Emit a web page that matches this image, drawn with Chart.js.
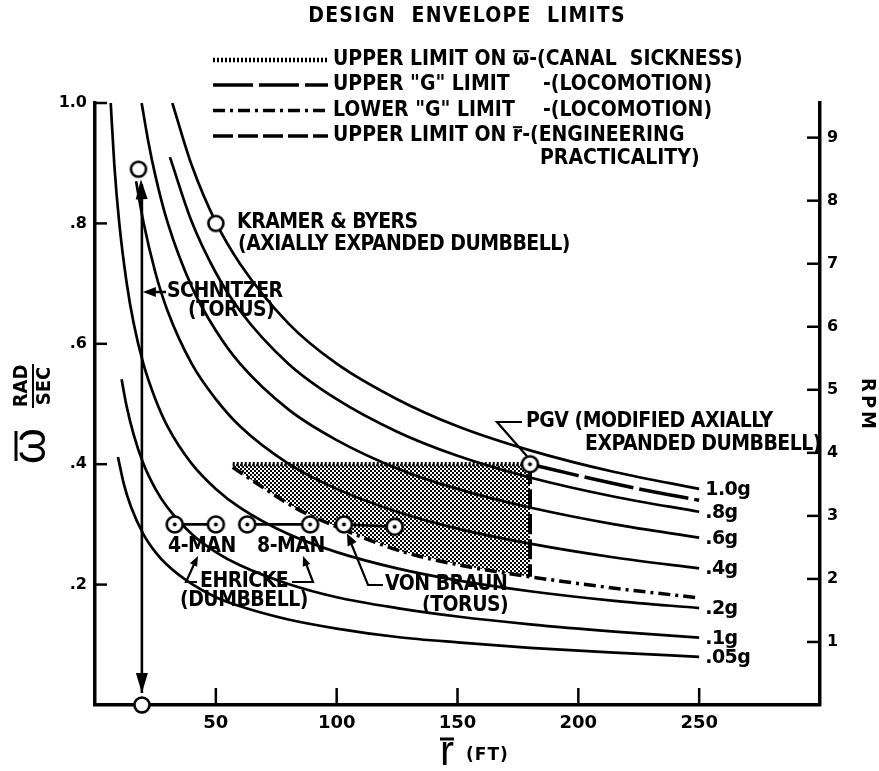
<!DOCTYPE html>
<html>
<head>
<meta charset="utf-8">
<title>Design Envelope Limits</title>
<script src="https://cdn.jsdelivr.net/npm/chart.js@4.4.1/dist/chart.umd.min.js"></script>
<style>
  html, body { margin: 0; padding: 0; background: #fff; }
  canvas { display: block; }
</style>
</head>
<body>
<canvas id="chart" width="879" height="771"></canvas>
<script>
// ---- constant-g curves: rim radius r (ft) against spin rate w (rad/sec) ----
const curveLabels = ['1.0g', '.8g', '.6g', '.4g', '.2g', '.1g', '.05g'];

const r10g  = [32, 40, 50, 60, 80, 100, 125, 150, 180, 215, 250];
const w10g  = [1.0, 0.897, 0.802, 0.733, 0.634, 0.567, 0.508, 0.463, 0.423, 0.387, 0.359];

const r08g  = [31, 40, 50, 60, 80, 100, 125, 150, 180, 215, 250];
const w08g  = [0.91, 0.803, 0.718, 0.655, 0.567, 0.508, 0.454, 0.414, 0.378, 0.346, 0.321];

const r06g  = [19.3, 22, 25, 30, 40, 50, 60, 80, 100, 125, 150, 180, 215, 250];
const w06g  = [1.0, 0.937, 0.879, 0.802, 0.695, 0.622, 0.567, 0.491, 0.440, 0.393, 0.359, 0.328, 0.300, 0.278];

const r04g  = [17, 20, 25, 30, 40, 50, 60, 80, 100, 125, 150, 180, 215, 250];
const w04g  = [0.870, 0.803, 0.718, 0.655, 0.567, 0.508, 0.463, 0.401, 0.359, 0.321, 0.293, 0.268, 0.245, 0.227];

const r02g  = [6.5, 8, 10, 13, 16, 20, 25, 30, 40, 50, 60, 80, 100, 125, 150, 180, 215, 250];
const w02g  = [1.0, 0.897, 0.802, 0.704, 0.634, 0.567, 0.508, 0.463, 0.401, 0.359, 0.328, 0.284, 0.254, 0.227, 0.207, 0.189, 0.173, 0.161];

const r01g  = [11, 13, 16, 20, 25, 30, 40, 50, 60, 80, 100, 125, 150, 180, 215, 250];
const w01g  = [0.541, 0.498, 0.449, 0.401, 0.359, 0.328, 0.284, 0.254, 0.232, 0.201, 0.179, 0.161, 0.147, 0.134, 0.122, 0.112];

const r005g = [9.5, 12, 15, 20, 25, 30, 40, 50, 60, 80, 100, 125, 150, 180, 215, 250];
const w005g = [0.412, 0.366, 0.328, 0.284, 0.254, 0.232, 0.201, 0.179, 0.164, 0.142, 0.127, 0.113, 0.104, 0.095, 0.087, 0.080];

const curveR = [r10g, r08g, r06g, r04g, r02g, r01g, r005g];
const curveW = [w10g, w08g, w06g, w04g, w02g, w01g, w005g];

// ---- design envelope boundaries ----
const canalR     = [57, 180];                 // upper limit on w (canal sickness)
const canalW     = [0.40, 0.40];
const upperGR    = [180, 200, 225, 250];      // upper "g" limit (locomotion)
const upperGW    = [0.40, 0.381, 0.359, 0.340];
const lowerGR    = [57, 70, 84, 100, 127, 154, 180, 215, 250];   // lower "g" limit (locomotion)
const lowerGW    = [0.395, 0.36, 0.325, 0.296, 0.255, 0.230, 0.213, 0.194, 0.178];
const maxRadiusR = [180, 180];                // upper limit on r (engineering practicality)
const maxRadiusW = [0.40, 0.213];

// ---- station concepts ----
const ehricke4R  = [33, 50];   const ehricke4W  = [0.30, 0.30];
const ehricke8R  = [63, 89];   const ehricke8W  = [0.30, 0.30];
const vonBraunR  = [103, 124]; const vonBraunW  = [0.30, 0.296];
const kramerR    = [50];       const kramerW    = [0.80];
const pgvR       = [180];      const pgvW       = [0.40];
const schnitzerR = [18, 19.4]; const schnitzerW = [0.89, 0.0];
const schnitzerLineR = [19.4, 19.4];
const schnitzerLineW = [0.865, 0.02];

// ---- axis ticks ----
const xTickValues   = [50, 100, 150, 200, 250];
const wTickValues   = [0.2, 0.4, 0.6, 0.8, 1.0];
const wTickLabels   = ['.2', '.4', '.6', '.8', '1.0'];
const rpmTickValues = [1, 2, 3, 4, 5, 6, 7, 8, 9];
const RPM_PER_RAD_S = 60 / (2 * Math.PI);

const LETTER = "'Liberation Sans Narrow', 'DejaVu Sans Condensed', 'Liberation Sans', sans-serif";
const DIGITS = "'DejaVu Sans', 'Liberation Sans', sans-serif";

const pts = (rs, ws) => rs.map((r, i) => ({ x: r, y: ws[i] }));

// checker hatch used for the acceptable design region
function makeHatch() {
  const c = document.createElement('canvas');
  c.width = 4; c.height = 4;
  const g = c.getContext('2d');
  g.fillStyle = '#000';
  g.fillRect(0, 0, 2, 2);
  g.fillRect(2, 2, 2, 2);
  return g.createPattern(c, 'repeat');
}

// open circle marker, optionally with a centre dot
function ring(rad, dot) {
  const s = Math.ceil(rad * 2 + 5);
  const c = document.createElement('canvas');
  c.width = s; c.height = s;
  const g = c.getContext('2d');
  g.lineWidth = 2.6;
  g.strokeStyle = '#000';
  g.fillStyle = '#fff';
  g.beginPath(); g.arc(s / 2, s / 2, rad, 0, Math.PI * 2); g.fill(); g.stroke();
  if (dot) {
    g.fillStyle = '#000';
    g.beginPath(); g.arc(s / 2, s / 2, dot, 0, Math.PI * 2); g.fill();
  }
  return c;
}
const ringDot = ring(8, 2);
const ringPlain = ring(7.5, 0);

const envelopePoly = [
  ...pts(canalR, canalW),
  ...pts(lowerGR, lowerGW).filter(p => p.x <= maxRadiusR[0]).reverse()
];

const datasets = [];

datasets.push({
  label: 'design envelope',
  data: envelopePoly,
  fill: 'shape',
  backgroundColor: makeHatch(),
  borderColor: 'rgba(0,0,0,0)',
  borderWidth: 1,
  tension: 0,
  pointRadius: 0,
  order: 9
});

curveLabels.forEach((lab, i) => {
  datasets.push({
    label: lab,
    data: pts(curveR[i], curveW[i]),
    borderColor: '#000',
    borderWidth: 2.7,
    cubicInterpolationMode: 'monotone',
    pointRadius: 0,
    order: 3
  });
});

const styled = (label, rs, ws, dash, width) => ({
  label, data: pts(rs, ws), borderColor: '#000', borderWidth: width,
  borderDash: dash, cubicInterpolationMode: 'monotone', pointRadius: 0, order: 2
});
datasets.push(styled('upper limit on w', canalR, canalW, [2, 2], 4.5));
datasets.push(styled('upper g limit', upperGR, upperGW, [50, 6], 3.5));
datasets.push(styled('lower g limit', lowerGR, lowerGW, [12, 5, 3, 5], 3.5));
datasets.push(styled('upper limit on r', maxRadiusR, maxRadiusW, [20, 5], 4));
datasets.push(styled('Schnitzer span', schnitzerLineR, schnitzerLineW, [], 2.6));

const station = (label, rs, ws, img, line) => ({
  label, data: pts(rs, ws), showLine: line, borderColor: '#000', borderWidth: 2.6,
  pointStyle: img, pointRadius: 9, order: 0, clip: false
});
datasets.push(station('Ehricke 4-man', ehricke4R, ehricke4W, ringDot, true));
datasets.push(station('Ehricke 8-man', ehricke8R, ehricke8W, ringDot, true));
datasets.push(station('von Braun', vonBraunR, vonBraunW, ringDot, true));
datasets.push(station('Kramer & Byers', kramerR, kramerW, ringPlain, false));
datasets.push(station('PGV', pgvR, pgvW, ringDot, false));
datasets.push(station('Schnitzer', schnitzerR, schnitzerW, ringPlain, false));

// ---- hand lettering, leaders, inward ticks and the key ----
const decor = {
  id: 'decor',
  afterDraw(chart) {
    const { ctx, chartArea: a, scales } = chart;
    const X = v => scales.x.getPixelForValue(v);
    const Y = v => scales.y.getPixelForValue(v);
    const Y2 = v => scales.y2.getPixelForValue(v);
    ctx.save();
    ctx.strokeStyle = '#000';
    ctx.fillStyle = '#000';
    ctx.lineCap = 'butt';

    const seg = (x1, y1, x2, y2, w = 2.5) => {
      ctx.lineWidth = w; ctx.setLineDash([]);
      ctx.beginPath(); ctx.moveTo(x1, y1); ctx.lineTo(x2, y2); ctx.stroke();
    };
    const poly = (p, w = 2.2) => {
      ctx.lineWidth = w; ctx.setLineDash([]);
      ctx.beginPath(); ctx.moveTo(p[0][0], p[0][1]);
      for (let i = 1; i < p.length; i++) ctx.lineTo(p[i][0], p[i][1]);
      ctx.stroke();
    };
    const head = (tx, ty, fx, fy, len = 12, half = 5) => {
      const ang = Math.atan2(ty - fy, tx - fx);
      const bx = tx - len * Math.cos(ang), by = ty - len * Math.sin(ang);
      const nx = -Math.sin(ang) * half, ny = Math.cos(ang) * half;
      ctx.beginPath(); ctx.moveTo(tx, ty); ctx.lineTo(bx + nx, by + ny); ctx.lineTo(bx - nx, by - ny);
      ctx.closePath(); ctx.fill();
    };
    const text = (s, x, y, size, align = 'left', fam = LETTER, spacing = -0.5) => {
      ctx.font = `bold ${size}px ${fam}`;
      ctx.textAlign = align; ctx.textBaseline = 'middle';
      ctx.letterSpacing = spacing + 'px';
      ctx.fillText(s, x, y);
      ctx.letterSpacing = '0px';
    };
    // runs of text where some glyphs carry an overbar
    const runs = (parts, x, y, size) => {
      ctx.font = `bold ${size}px ${LETTER}`;
      ctx.textAlign = 'left'; ctx.textBaseline = 'middle';
      let cx = x;
      parts.forEach(p => {
        const w = ctx.measureText(p.t).width;
        ctx.fillText(p.t, cx, y);
        if (p.bar) seg(cx, y - size * 0.42, cx + w, y - size * 0.42, 2);
        cx += w;
      });
    };

    // inward tick marks
    xTickValues.forEach(v => seg(X(v), a.bottom, X(v), a.bottom - 17, 2.5));
    wTickValues.forEach(v => seg(a.left, Y(v), a.left + 12, Y(v), 2.5));
    rpmTickValues.forEach(v => seg(a.right, Y2(v), a.right - 13, Y2(v), 2.5));

    // title and key
    text('DESIGN  ENVELOPE  LIMITS', 467, 17, 21, 'center', LETTER, 1.2);
    const keyRows = [60, 85, 110.5, 136];
    const keyDash = [[2, 2], [40, 6], [12, 5, 3, 5], [20, 5]];
    keyRows.forEach((ky, i) => {
      ctx.lineWidth = i === 0 ? 4.5 : 3.5;
      ctx.setLineDash(keyDash[i]);
      ctx.beginPath(); ctx.moveTo(213, ky); ctx.lineTo(328, ky); ctx.stroke();
    });
    ctx.setLineDash([]);
    runs([{ t: 'UPPER LIMIT ON ' }, { t: '\u03C9', bar: true }, { t: '-(CANAL  SICKNESS)' }], 333, keyRows[0], 21);
    text('UPPER "G" LIMIT', 333, keyRows[1], 21, 'left', LETTER, 0);
    text('-(LOCOMOTION)', 543, keyRows[1], 21, 'left', LETTER, 0);
    text('LOWER "G" LIMIT', 333, keyRows[2], 21, 'left', LETTER, 0);
    text('-(LOCOMOTION)', 543, keyRows[2], 21, 'left', LETTER, 0);
    runs([{ t: 'UPPER LIMIT ON ' }, { t: 'r', bar: true }, { t: '-(ENGINEERING' }], 333, keyRows[3], 21);
    text('PRACTICALITY)', 540, 158.5, 21, 'left', LETTER, 0);

    // curve labels at the right-hand ends
    curveLabels.forEach((lab, i) => {
      const w = curveW[i], r = curveR[i];
      text(lab, X(r[r.length - 1]) + 6, Y(w[w.length - 1]) + 1, 19, 'left', DIGITS, -0.5);
    });

    // station notes
    text('KRAMER & BYERS', 237, 223, 21);
    text('(AXIALLY EXPANDED DUMBBELL)', 238, 245, 21);

    text('SCHNITZER', 167, 292, 21);
    text('(TORUS)', 188, 311, 21);
    seg(166, 292, 152, 292, 2.5);
    head(X(schnitzerLineR[0]) + 1, 292, 166, 292, 13, 5);
    // arrowheads along the Schnitzer span
    const sx = X(schnitzerLineR[0]);
    head(sx, a.bottom - 12, sx, a.bottom - 40, 20, 6);
    head(sx - 1, Y(schnitzerW[0]) + 10, sx, Y(schnitzerW[0]) + 35, 20, 6);

    text('4-MAN', 168, 547, 21);
    text('8-MAN', 257, 547, 21);
    text('EHRICKE', 200, 582, 21);
    text('(DUMBBELL)', 180, 601, 21);
    poly([[197, 582], [186, 582], [196, 560]]);
    head(198, 556, 190, 572, 10, 4);
    poly([[292, 582], [313, 582], [305, 561]]);
    head(303, 556, 309, 572, 10, 4);

    text('VON BRAUN', 385, 585, 21);
    text('(TORUS)', 422, 606, 21);
    poly([[383, 585], [368, 585], [351, 543]]);
    head(X(vonBraunR[0]) + 3, Y(vonBraunW[0]) + 9, 356, 552, 12, 5);

    text('PGV (MODIFIED AXIALLY', 526, 422, 21);
    text('EXPANDED DUMBBELL)', 585, 445, 21);
    poly([[522, 422], [497, 422], [X(pgvR[0]) - 3, Y(pgvW[0]) - 8]]);

    // axis titles
    ctx.save();
    ctx.translate(29, 446);
    ctx.rotate(-Math.PI / 2);
    ctx.font = `46px 'Liberation Sans', sans-serif`;
    ctx.textAlign = 'center'; ctx.textBaseline = 'alphabetic';
    ctx.fillText('\u03C9', 0, 16);
    seg(-15, -13, 15, -13, 3);
    ctx.restore();

    ctx.save();
    ctx.translate(32, 386);
    ctx.rotate(-Math.PI / 2);
    text('RAD', 0, -10, 20, 'center', LETTER, 0);
    seg(-22, 1, 22, 1, 2);
    text('SEC', 0, 13, 20, 'center', LETTER, 0);
    ctx.restore();

    ctx.save();
    ctx.translate(867, 405);
    ctx.rotate(Math.PI / 2);
    text('RPM', 0, 0, 20, 'center', LETTER, 3);
    ctx.restore();

    ctx.font = `42px 'Liberation Sans', sans-serif`;
    ctx.textAlign = 'left'; ctx.textBaseline = 'alphabetic';
    ctx.fillText('r', 440, 765);
    seg(440, 739, 454, 739, 3);
    text('(FT)', 466, 756, 17, 'left', DIGITS, 1);

    ctx.restore();
  }
};

const axisFont = (size) => ({ family: DIGITS, size, weight: 'bold' });

new Chart(document.getElementById('chart'), {
  type: 'line',
  data: { datasets },
  options: {
    responsive: false,
    animation: false,
    devicePixelRatio: 1,
    layout: { padding: { top: 103, left: 0, right: 0, bottom: 0 } },
    plugins: {
      legend: { display: false },
      tooltip: { enabled: false },
      title: { display: false }
    },
    scales: {
      x: {
        type: 'linear', min: 0, max: 300,
        afterBuildTicks: s => { s.ticks = xTickValues.map(v => ({ value: v })); },
        afterFit: s => { s.height = 66; },
        grid: { drawOnChartArea: false, drawTicks: false },
        border: { color: '#000', width: 3.5 },
        ticks: { color: '#000', font: axisFont(18), padding: 8, maxRotation: 0, autoSkip: false,
                 callback: v => String(v) }
      },
      y: {
        type: 'linear', position: 'left', min: 0, max: 1.0,
        afterBuildTicks: s => { s.ticks = wTickValues.map(v => ({ value: v })); },
        afterFit: s => { s.width = 95; },
        grid: { drawOnChartArea: false, drawTicks: false },
        border: { color: '#000', width: 3.5 },
        ticks: { color: '#000', font: axisFont(16), padding: 8, autoSkip: false,
                 callback: (v, i) => wTickLabels[i] }
      },
      y2: {
        type: 'linear', position: 'right', min: 0, max: 1.0 * RPM_PER_RAD_S,
        afterBuildTicks: s => { s.ticks = rpmTickValues.map(v => ({ value: v })); },
        afterFit: s => { s.width = 59; },
        grid: { drawOnChartArea: false, drawTicks: false },
        border: { color: '#000', width: 3.5 },
        ticks: { color: '#000', font: axisFont(16), padding: 7, autoSkip: false,
                 callback: v => String(v) }
      }
    }
  },
  plugins: [decor]
});
</script>
</body>
</html>
